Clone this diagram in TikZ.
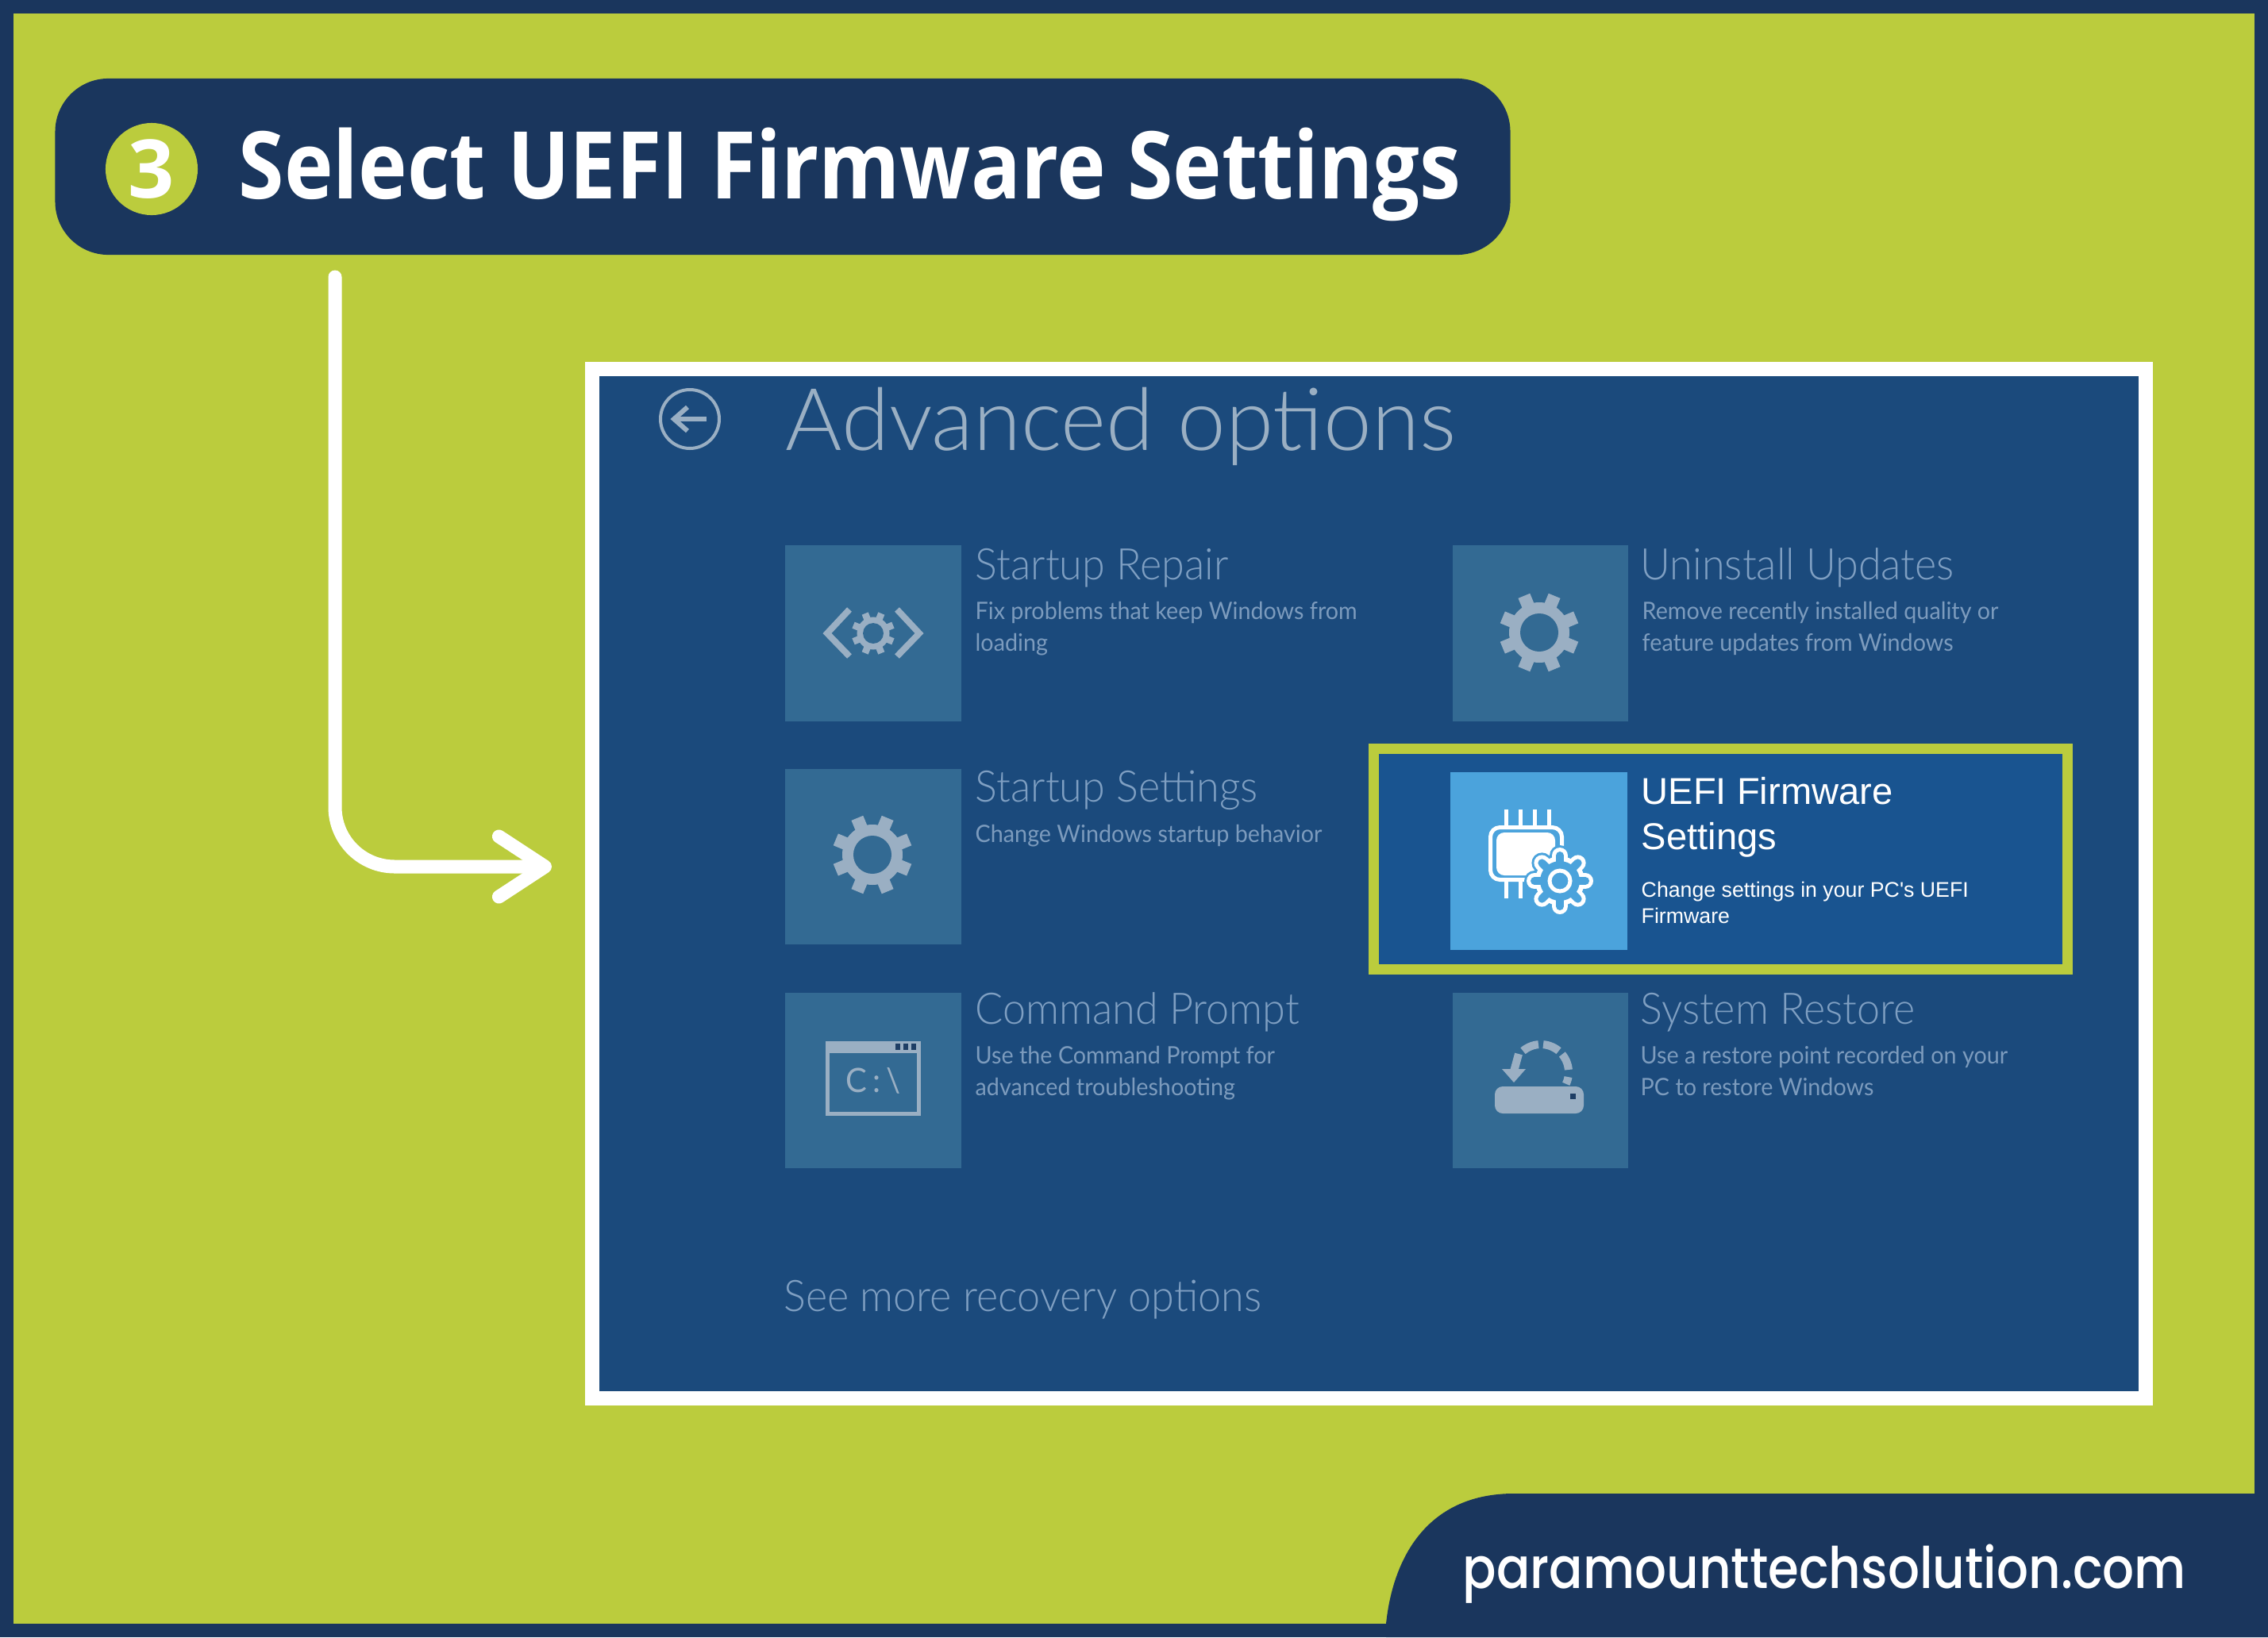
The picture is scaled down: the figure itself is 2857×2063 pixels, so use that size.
\documentclass[tikz,border=0pt]{standalone}
\usepackage{fontspec}
\setmainfont{Open Sans}
\newfontfamily\titlefont{Lato Light}
\newfontfamily\thinfont[FakeStretch=0.95]{Lato Light}
\newfontfamily\softfont[FakeStretch=0.95]{Lato}
\newfontfamily\sharpfont{Liberation Sans}
\newfontfamily\domainfont[FakeStretch=0.87]{Poppins Medium}
\newfontfamily\headfont[FakeStretch=0.885]{Open Sans}
\usetikzlibrary{positioning, arrows.meta}
\definecolor{navy}{HTML}{1A365D}
\definecolor{limey}{HTML}{BBCC3D}
\definecolor{panel}{HTML}{1B4A7C}
\definecolor{active}{HTML}{195490}
\definecolor{tilefill}{HTML}{336A93}
\definecolor{skyfill}{HTML}{4BA3DC}
\definecolor{dimicon}{HTML}{9AAFC3}
\definecolor{dimhead}{HTML}{7F9FC2}
\definecolor{dimtext}{HTML}{7C9BBD}
\tikzset{tile/.style={fill=tilefill,minimum size=2.21cm,inner sep=0pt}}
\tikzset{label/.style={anchor=base west,inner sep=0pt}}
\tikzset{tilehead/.style={label,text=dimhead,font=\thinfont\fontsize{15.6}{18}\selectfont}}
\tikzset{tiledesc/.style={label,text=dimtext,font=\softfont\fontsize{8.6}{10}\selectfont}}
\tikzset{arrowline/.style={white,line width=1.7mm,line cap=round,rounded corners=7.5mm,-{Straight Barb[round,length=5.8mm,width=7.6mm]}}}
\tikzset{iconline/.style={dimicon,line width=1.1mm}}
\newcommand{\gearicon}[6]{%
    \fill[#4] (#1,#2) circle (#3*0.76);
    \foreach \a in {0,45,...,315}
        \draw[#4,line width=#3*0.0032cm] ({#1+#3*0.5*cos(\a+#6)},{#2+#3*0.5*sin(\a+#6)}) -- ({#1+#3*cos(\a+#6)},{#2+#3*sin(\a+#6)});
    \fill[#5] (#1,#2) circle (#3*0.48);
}
\newcommand{\gearlayer}[3]{%
    \fill[#1] (1965,1110) circle (#3);
    \foreach \a in {0,45,...,315}
        \draw[#1,line width=#2,line cap=round] ({1965+24*cos(\a)},{1110+24*sin(\a)}) -- ({1965+32*cos(\a)},{1110+32*sin(\a)});
}
\begin{document}
\begin{tikzpicture}[x=0.01cm,y=-0.01cm]
    \useasboundingbox (0,0) rectangle (2857,2063);
    \fill[navy] (0,0) rectangle (2857,2063);
    \fill[limey] (17,17) rectangle (2840,2046);
    \fill[navy] (1746,2046) .. controls (1755,1960) and (1800,1882) .. (1907,1882) -- (2857,1882) -- (2857,2063) -- (1746,2063) -- cycle;
    \node[label,text=white,font=\domainfont\fontsize{20.5}{24}\selectfont] (domain) at (1842,2001) {paramounttechsolution.com};

    % title bar
    \node[fill=navy,rounded corners=6.7mm,minimum width=18.32cm,minimum height=2.22cm,inner sep=0pt] (header) at (986,210) {};
    \node[circle,fill=limey,minimum size=1.16cm,inner sep=0pt,text=white,font=\bfseries\fontsize{29}{32}\selectfont] (badge) at (191,213) {3};
    \node[label,text=white,font=\headfont\bfseries\fontsize{33.5}{40}\selectfont] (headertext) at (300,250) {Select UEFI Firmware Settings};

    % arrow from title to screen
    \coordinate (arrowstart) at (422,349);
    \coordinate (arrowtip) at (695,1092);
    \draw[arrowline] (arrowstart) |- (arrowtip);

    % screen
    \node[fill=panel,draw=white,line width=1.8mm,minimum width=19.56cm,minimum height=12.97cm,inner sep=0pt] (screen) at (1724.5,1113.5) {};
    \draw[dimicon,line width=0.4mm] (869,528) circle (37);
    \draw[iconline,line width=0.6mm] (890,528) -- (849,528);
    \draw[iconline,line width=0.6mm] (866,513) -- (849,528) -- (866,543);
    \node[label,text=dimicon,font=\titlefont\fontsize{31}{36}\selectfont] (title) at (989,567) {Advanced options};

    % tiles
    \node[tile] (repair) at (1100,798) {};
    \node[tile,right=6.18cm of repair] (uninstall) {};
    \node[tile,below=0.59cm of repair] (settings) {};
    \node[tile,below=0.59cm of settings] (prompt) {};
    \node[tile,right=6.18cm of prompt] (restore) {};

    \node[tilehead] (repairhead) at (1228,730) {Startup Repair};
    \node[tiledesc] (repairone) at (1228,780) {Fix problems that keep Windows from};
    \node[tiledesc] (repairtwo) at (1228,820) {loading};
    \node[tilehead] (uninstallhead) at (2066,730) {Uninstall Updates};
    \node[tiledesc] (uninstallone) at (2068,780) {Remove recently installed quality or};
    \node[tiledesc] (uninstalltwo) at (2068,820) {feature updates from Windows};
    \node[tilehead] (settingshead) at (1228,1010) {Startup Settings};
    \node[tiledesc] (settingsone) at (1228,1061) {Change Windows startup behavior};
    \node[tilehead] (prompthead) at (1228,1290) {Command Prompt};
    \node[tiledesc] (promptone) at (1228,1340) {Use the Command Prompt for};
    \node[tiledesc] (prompttwo) at (1228,1380) {advanced troubleshooting};
    \node[tilehead] (restorehead) at (2066,1290) {System Restore};
    \node[tiledesc] (restoreone) at (2066,1340) {Use a restore point recorded on your};
    \node[tiledesc] (restoretwo) at (2066,1380) {PC to restore Windows};
    \node[tilehead] (more) at (987,1652) {See more recovery options};

    % dim icons
    \gearicon{1100}{798}{27}{dimicon}{tilefill}{22.5}
    \draw[iconline,line width=0.8mm] (1070,768) -- (1042,798) -- (1070,827);
    \draw[iconline,line width=0.8mm] (1130,768) -- (1158,798) -- (1130,827);
    \gearicon{1939}{797}{50}{dimicon}{tilefill}{22.5}
    \gearicon{1099}{1077}{50}{dimicon}{tilefill}{22.5}

    \draw[iconline,line width=0.5mm] (1042.5,1314.5) rectangle (1157.5,1403.5);
    \fill[dimicon] (1040,1312) rectangle (1160,1327);
    \foreach \d in {1131,1141,1151}
        \fill[navy!85!tilefill] (\d-3,1315) rectangle (\d+3,1323);
    \node[inner sep=0pt,text=dimicon,font=\softfont\fontsize{12}{14}\selectfont] (promptpath) at (1100,1362) {C\,:\,\textbackslash};

    \fill[dimicon,rounded corners=1mm] (1883,1369) rectangle (1995,1403);
    \fill[navy!85!tilefill] (1978,1378) rectangle (1985,1385);
    \foreach \s/\e in {95/130,50/85,5/40,-25/-10}
        \draw[iconline,line width=1mm] plot[domain=\s:\e,samples=8,smooth] ({1941+35*cos(\x)},{1351-35*sin(\x)});
    \draw[iconline,line width=1mm] (1913,1328) -- (1907,1350);
    \fill[dimicon] (1892,1347) -- (1922,1347) -- (1907,1364) -- cycle;

    % selected entry
    \node[fill=active,draw=limey,line width=1.3mm,minimum width=8.74cm,minimum height=2.78cm,inner sep=0pt] (selected) at (2167.5,1082.5) {};
    \node[fill=skyfill,minimum width=2.23cm,minimum height=2.24cm,inner sep=0pt] (selectedtile) at (1938.5,1085) {};
    \foreach \p in {1897,1915,1933,1951}
        \draw[white,line width=0.5mm] (\p,1020) -- (\p,1042);
    \foreach \p in {1897,1915}
        \draw[white,line width=0.5mm] (\p,1109) -- (\p,1132);
    \fill[white,rounded corners=1mm] (1885,1049) rectangle (1959,1103);
    \draw[white,line width=0.5mm,rounded corners=1.2mm] (1877.5,1042.5) rectangle (1967.5,1108.5);
    \gearlayer{skyfill}{2.6mm}{34}
    \gearlayer{white}{2mm}{31}
    \gearlayer{skyfill}{1mm}{25}
    \draw[white,line width=0.5mm,fill=skyfill] (1965,1110) circle (13);

    \node[label,text=white,font=\sharpfont\fontsize{13.4}{16}\selectfont] (selectedone) at (2067,1013) {UEFI Firmware};
    \node[label,text=white,font=\sharpfont\fontsize{13.4}{16}\selectfont] (selectedtwo) at (2067,1070) {Settings};
    \node[label,text=white,font=\sharpfont\fontsize{7.6}{10}\selectfont] (selectedthree) at (2067,1130) {Change settings in your PC's UEFI};
    \node[label,text=white,font=\sharpfont\fontsize{7.6}{10}\selectfont] (selectedfour) at (2067,1163) {Firmware};
\end{tikzpicture}
\end{document}
